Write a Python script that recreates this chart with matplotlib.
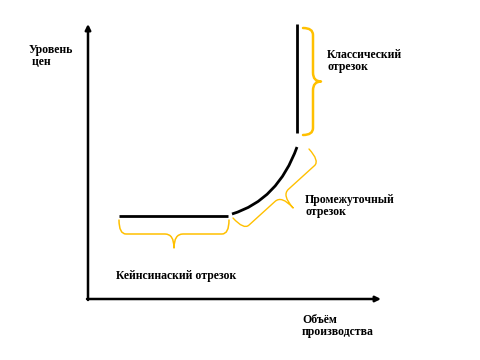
import numpy as np
import matplotlib
matplotlib.use("Agg")
import matplotlib.pyplot as plt
from matplotlib.path import Path
from matplotlib.patches import PathPatch

# --- diagram data (pixel-space schematic of aggregate supply curve) ---
y_axis_x = 88
x_axis_y = 299
y_axis_top = 24
x_axis_right = 381

keynes_x = [119, 228]
keynes_y = 216

# intermediate segment: quadratic curve (start, control, end)
inter_start = (232, 214)
inter_ctrl = (278, 200)
inter_end = (297, 147)

classic_x = 297
classic_y = [24, 133]

# braces: (start point, end point, normal direction, body offset, tip offset, width)
braces = [
    ((119, 220), (229, 220), (0, 1), 14, 28, 1.1),
    ((303, 28), (303, 135), (1, 0), 10, 18, 1.8),
    ((233, 218), (309, 149), (0.67, 0.74), 16, 33, 1.0),
]

labels = [
    ("Уровень", 29, 50),
    (" цен", 29, 62),
    ("Классический", 327, 55),
    ("отрезок", 327, 67),
    ("Промежуточный", 305, 200),
    ("отрезок", 305, 212),
    ("Кейнсинаский отрезок", 116, 276),
    ("Объём", 302, 320),
    ("производства", 302, 332),
]

gold = "#FFC000"

fig = plt.figure(figsize=(4.8, 3.6), dpi=100)
ax = fig.add_axes([0, 0, 1, 1])
ax.set_xlim(0, 480)
ax.set_ylim(360, 0)
ax.axis("off")

# axes with arrows
ax.annotate("", xy=(y_axis_x, y_axis_top), xytext=(y_axis_x, x_axis_y + 1),
            arrowprops=dict(arrowstyle="-|>", lw=1.8, color="black",
                            mutation_scale=8, shrinkA=0, shrinkB=0))
ax.annotate("", xy=(x_axis_right, x_axis_y), xytext=(y_axis_x - 1, x_axis_y),
            arrowprops=dict(arrowstyle="-|>", lw=1.8, color="black",
                            mutation_scale=8, shrinkA=0, shrinkB=0))

# Keynesian segment
ax.plot(keynes_x, [keynes_y, keynes_y], color="black", lw=2, solid_capstyle="butt")

# intermediate segment
ax.add_patch(PathPatch(Path([inter_start, inter_ctrl, inter_end],
                            [Path.MOVETO, Path.CURVE3, Path.CURVE3]),
                       fill=False, edgecolor="black", lw=2, capstyle="butt"))

# classical segment
ax.plot([classic_x, classic_x], classic_y, color="black", lw=2, solid_capstyle="butt")


def brace(p0, p1, n, h, d, lw):
    p0 = np.array(p0, float)
    p1 = np.array(p1, float)
    L = np.linalg.norm(p1 - p0)
    tv = (p1 - p0) / L
    nv = np.array(n, float)
    nv = nv / np.linalg.norm(nv)
    r_end = min(7, L / 8)
    r_tip = min(9, L / 8)
    m = L / 2
    local = [
        ((0, 0), Path.MOVETO),
        ((0, h), Path.CURVE3), ((r_end, h), Path.CURVE3),
        ((m - r_tip, h), Path.LINETO),
        ((m, h), Path.CURVE3), ((m, d), Path.CURVE3),
        ((m, h), Path.CURVE3), ((m + r_tip, h), Path.CURVE3),
        ((L - r_end, h), Path.LINETO),
        ((L, h), Path.CURVE3), ((L, 0), Path.CURVE3),
    ]
    verts = [p0 + u * tv + v * nv for (u, v), _ in local]
    codes = [c for _, c in local]
    ax.add_patch(PathPatch(Path(verts, codes), fill=False, edgecolor=gold,
                           lw=lw, capstyle="round", joinstyle="round"))


for p0, p1, n, h, d, lw in braces:
    brace(p0, p1, n, h, d, lw)

for txt, x, y in labels:
    ax.text(x, y, txt, ha="left", va="center", fontsize=8.5,
            fontweight="bold", family=["Liberation Serif", "DejaVu Serif"],
            color="black")

fig.savefig("out.png", dpi=100)
